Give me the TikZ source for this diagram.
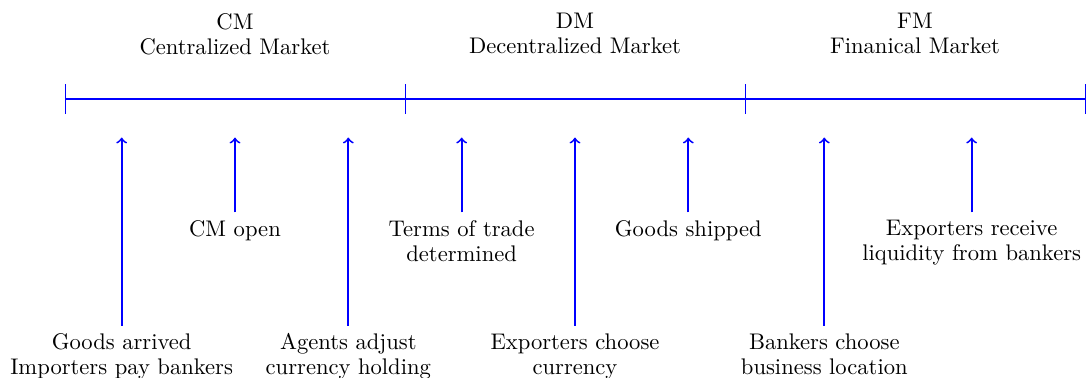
\documentclass[tikz,border=0pt]{standalone}
\begin{document}
\begin{tikzpicture}[x=0.8813cm,y=0.8813cm,
  lbl/.style={align=center, font=\fontsize{10}{11}\selectfont, anchor=north},
  hdr/.style={align=center, font=\fontsize{10}{11}\selectfont, anchor=north},
  arr/.style={->, thick, blue},
  tl/.style={thick, blue},
  tick/.style={blue}]
\useasboundingbox (-1.147,-4.923) rectangle (18.018,1.747);
% timeline
\coordinate (p0) at (0,0);
\coordinate (p1) at (6,0);
\coordinate (p2) at (12,0);
\coordinate (p3) at (18,0);
\draw[tl] (p0) -- (p3);
\foreach \p in {p0,p1,p2,p3}{\draw[tick] (\p) ++(0,0.26) -- ++(0,-0.52);}
% headers
\node[hdr] (cm) at (3,1.652) {CM\\Centralized Market};
\node[hdr] (dm) at (9,1.652) {DM\\Decentralized Market};
\node[hdr] (fm) at (15,1.652) {FM\\Finanical Market};
% tips
\foreach \n/\x in {1/1,2/3,3/5,4/7,5/9,6/11,7/13.4,8/16}{\coordinate (t\n) at (\x,-0.68);}
% event labels
\node[lbl] (e1) at (1,-4) {Goods arrived\\Importers pay bankers};
\node[lbl] (e2) at (3,-2) {CM open};
\node[lbl] (e3) at (5,-4) {Agents adjust\\currency holding};
\node[lbl] (e4) at (7,-2) {Terms of trade\\determined};
\node[lbl] (e5) at (9,-4) {Exporters choose\\currency};
\node[lbl] (e6) at (11,-2) {Goods shipped};
\node[lbl] (e7) at (13.4,-4) {Bankers choose\\business location};
\node[lbl] (e8) at (16,-2) {Exporters receive\\liquidity from bankers};
\foreach \n in {1,...,8}{\draw[arr] (e\n.north) -- (t\n);}
\end{tikzpicture}
\end{document}
